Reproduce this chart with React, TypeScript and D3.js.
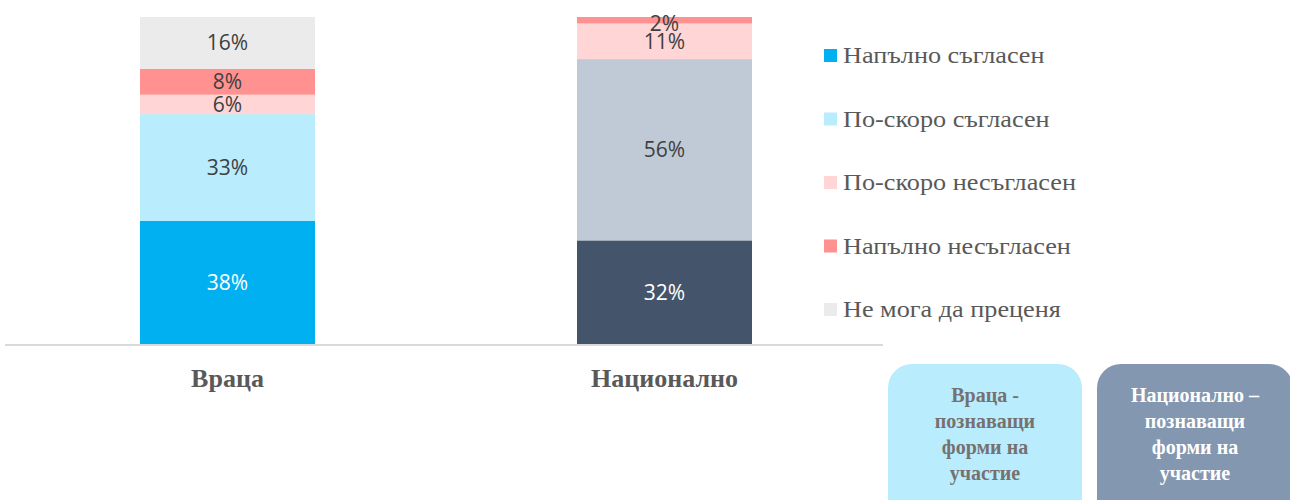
import React from "react";
import * as d3 from "d3";

const categories = ["Враца", "Национално"];
const seriesNames = [
  "Напълно съгласен",
  "По-скоро съгласен",
  "По-скоро несъгласен",
  "Напълно несъгласен",
  "Не мога да преценя",
];
const vratsaValues = [38, 33, 6, 8, 16];
const nationalValues = [32, 56, 11, 2, 0];
const legendColors = ["#00B0F0", "#B9ECFD", "#FFD5D5", "#FF9191", "#EBEBEB"];
const vratsaColors = ["#00B0F0", "#B9ECFD", "#FFD5D5", "#FF9191", "#EBEBEB"];
const nationalColors = ["#44546A", "#C0CAD6", "#FFD5D5", "#FF9191", "#EBEBEB"];
const boxTexts = [
  ["Враца -", "познаващи", "форми на", "участие"],
  ["Национално –", "познаващи", "форми на", "участие"],
];

const W = 1290;
const H = 500;
const BASE = 344;
const TOP = 17;
const BAR_W = 175;

export default function App() {
  const x = d3.scalePoint<string>().domain(categories).range([9, 883]).padding(0.5);
  const y = d3.scaleLinear().domain([0, 101]).range([BASE, TOP]);
  const valuesByCat = [vratsaValues, nationalValues];
  const colorsByCat = [vratsaColors, nationalColors];

  const legendY = d3.scalePoint<string>().domain(seriesNames).range([49, 303]);

  const sansFont = "'Open Sans', 'Noto Sans', sans-serif";
  const serifFont = "'Liberation Serif', 'Times New Roman', serif";

  return (
    <svg
      width={W}
      height={H}
      style={{ position: "absolute", left: 0, top: 0, background: "#fff" }}
    >
      {categories.map((cat, ci) => {
        const vals = valuesByCat[ci];
        const cols = colorsByCat[ci];
        const cx = x(cat) as number;
        let acc = 0;
        return (
          <g key={cat}>
            {vals.map((v, si) => {
              if (v <= 0) return null;
              const y0 = y(acc);
              const y1 = y(acc + v);
              acc += v;
              return (
                <rect
                  key={si}
                  x={cx - BAR_W / 2}
                  y={y1}
                  width={BAR_W}
                  height={y0 - y1}
                  fill={cols[si]}
                />
              );
            })}
          </g>
        );
      })}
      {categories.map((cat, ci) => {
        const vals = valuesByCat[ci];
        const cx = x(cat) as number;
        let acc = 0;
        return (
          <g key={cat + "-lbl"}>
            {vals.map((v, si) => {
              if (v <= 0) return null;
              const ym = Math.max(y(acc + v / 2), y(acc + v) + 6);
              acc += v;
              return (
                <text
                  key={si}
                  x={cx}
                  y={ym}
                  dy="0.36em"
                  textAnchor="middle"
                  fontFamily={sansFont}
                  fontSize={21}
                  fill={si === 0 ? "#FFFFFF" : "#404040"}
                >
                  {v}%
                </text>
              );
            })}
          </g>
        );
      })}
      <line x1={5} x2={883} y1={BASE + 1} y2={BASE + 1} stroke="#D9D9D9" strokeWidth={2} />
      {categories.map((cat) => (
        <text
          key={cat + "-axis"}
          x={x(cat) as number}
          y={387}
          textAnchor="middle"
          fontFamily={serifFont}
          fontWeight="bold"
          fontSize={26}
          fill="#595959"
        >
          {cat}
        </text>
      ))}
      {seriesNames.map((s, i) => (
        <g key={s} transform={`translate(824, ${legendY(s)})`}>
          <rect x={0} y={0} width={13} height={13} fill={legendColors[i]} />
          <text
            transform="translate(19, 14) scale(1.14, 1)"
            fontFamily={serifFont}
            fontSize={23}
            fill="#595959"
          >
            {s}
          </text>
        </g>
      ))}
      {boxTexts.map((lines, bi) => {
        const bx = bi === 0 ? 888 : 1097;
        const bw = bi === 0 ? 194 : 196;
        const fill = bi === 0 ? "#B9ECFD" : "#8497B0";
        const tc = bi === 0 ? "#767171" : "#FFFFFF";
        return (
          <g key={bi}>
            <rect x={bx} y={364} width={bw} height={170} rx={24} ry={24} fill={fill} />
            {lines.map((l, li) => (
              <text
                key={li}
                x={bx + bw / 2}
                y={402 + li * 26}
                textAnchor="middle"
                fontFamily={serifFont}
                fontWeight="bold"
                fontSize={20}
                fill={tc}
              >
                {l}
              </text>
            ))}
          </g>
        );
      })}
    </svg>
  );
}
